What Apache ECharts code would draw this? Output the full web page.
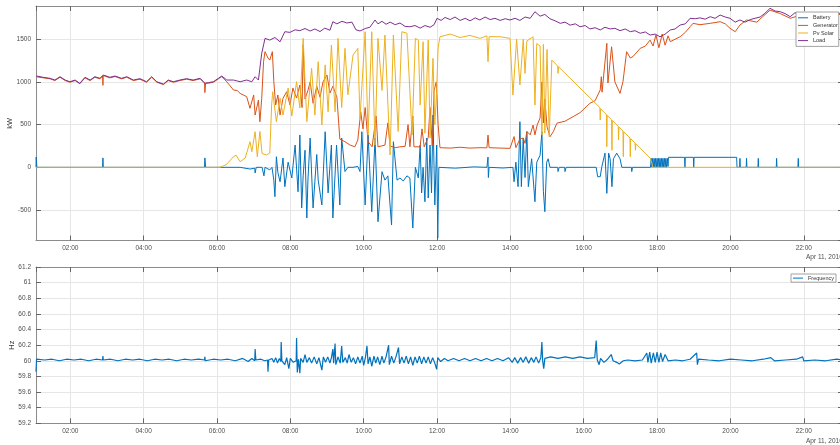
<!DOCTYPE html>
<html>
<head>
<meta charset="utf-8">
<script src="https://cdn.jsdelivr.net/npm/echarts@6.0.0/dist/echarts.min.js"></script>
<style>
  html, body { margin: 0; padding: 0; background: #fff; }
  #chart { width: 840px; height: 445px; }
</style>
</head>
<body>
<div id="chart"></div>
<script>
// time is in hours of Apr 11, 2016
const battery = [
  [1.065,0],[1.07,120],[1.09,0],[2.88,0],[2.89,110],[2.90,0],[5.66,0],[5.67,110],[5.69,0],
  [6.63,0],[6.90,-20],[7.03,-10],[7.04,-67],[7.07,0],[7.23,0],[7.28,-100],[7.31,0],[7.35,20],[7.44,-30],[7.50,0],
  [7.55,-150],[7.58,-344],[7.62,124],[7.66,-60],[7.72,-169],[7.80,109],[7.85,-227],[7.94,60],[8.04,-125],[8.13,261],
  [8.21,-286],[8.26,378],[8.31,-476],[8.35,-100],[8.40,200],[8.45,-593],[8.48,-150],[8.54,343],[8.62,-476],[8.72,150],
  [8.76,-150],[8.86,-441],[8.95,417],[9.03,-300],[9.12,261],[9.16,-593],[9.26,261],[9.35,-441],[9.40,343],[9.49,-50],
  [9.57,0],[9.71,0],[9.84,10],[9.90,-50],[9.95,417],[10.04,-441],[10.12,378],[10.22,-520],[10.31,343],[10.39,-637],
  [10.50,-51],[10.58,-150],[10.66,-100],[10.76,-676],[10.81,300],[10.91,-150],[10.99,-125],[11.08,-160],[11.18,-100],
  [11.26,-125],[11.34,-711],[11.41,0],[11.49,-125],[11.54,261],[11.58,-300],[11.62,0],[11.67,-403],[11.72,343],
  [11.76,-360],[11.81,261],[11.85,-300],[11.89,612],[11.94,-441],[11.99,261],[12.02,-828],[12.05,0],
  [12.5,-10],[13.0,5],[13.36,0],[13.39,120],[13.40,-120],[13.42,0],[13.8,-8],[14.07,0],[14.10,-169],[14.15,60],
  [14.21,-227],[14.26,534],[14.30,-227],[14.35,343],[14.40,-120],[14.45,417],[14.49,-227],[14.58,100],[14.67,-403],
  [14.72,60],[14.81,140],[14.86,417],[14.90,-280],[14.94,-520],[14.99,60],[15.03,100],[15.08,0],[15.29,0],[15.30,-50],
  [15.33,0],[15.48,0],[15.49,-50],[15.52,0],[16.34,0],[16.38,-110],[16.45,-110],[16.49,0],[16.58,166],[16.63,-305],
  [16.68,166],[16.72,100],[16.77,-227],[16.81,100],[16.90,166],[16.99,100],[17.04,0],[17.30,0],[17.31,-50],[17.33,0],
  [17.82,0],[17.84,105],[17.86,0],[17.88,105],[17.90,0],[17.92,105],[17.94,0],[17.96,105],[17.98,0],[18.00,105],
  [18.02,0],[18.04,105],[18.06,0],[18.08,105],[18.10,0],[18.12,105],[18.14,0],[18.16,105],[18.18,0],[18.20,105],
  [18.22,0],[18.24,105],[18.26,0],[18.28,105],[18.30,10],[18.31,117],[18.75,117],[18.76,0],[18.77,117],[18.99,117],
  [19.00,0],[19.01,117],[20.17,117],[20.18,0],[20.25,0],[20.26,105],[20.27,0],[20.43,0],[20.44,105],[20.45,0],
  [20.75,0],[20.76,105],[20.77,0],[21.25,0],[21.26,105],[21.27,0],[21.84,0],[21.85,105],[21.86,0],[23.07,0]
];

const generator = [
  [1.08,1060],[1.26,1048],[1.45,1036],[1.58,1016],[1.72,1055],[1.86,1016],[1.99,996],[2.13,1016],[2.26,978],
  [2.40,1048],[2.54,1016],[2.67,1055],[2.81,1036],[2.88,1070],[2.89,960],[2.90,1075],[3.08,1048],[3.22,1063],
  [3.40,1036],[3.54,1055],[3.72,1016],[3.90,1032],[4.08,996],[4.22,1055],[4.36,996],[4.54,969],[4.67,1016],
  [4.81,996],[4.99,1016],[5.17,1032],[5.35,1016],[5.54,1036],[5.66,990],[5.67,875],[5.69,985],[5.76,985],[5.90,996],
  [6.04,1036],[6.13,1063],[6.27,1000],[6.45,905],[6.55,900],[6.63,866],[6.81,827],
  [6.90,691],[7.00,847],[7.04,612],[7.13,788],[7.17,534],[7.22,808],[7.27,1237],[7.31,1354],[7.39,1280],[7.44,1256],
  [7.51,1354],[7.55,1002],[7.60,730],[7.66,847],[7.72,612],[7.80,808],[7.90,885],[7.99,730],[8.07,928],[8.17,811],
  [8.26,964],[8.32,700],[8.35,1432],[8.40,800],[8.48,900],[8.54,1000],[8.62,750],[8.72,950],[8.81,820],[8.89,1000],
  [9.00,1080],[9.08,870],[9.16,950],[9.27,820],[9.35,330],[9.49,300],[9.63,260],[9.76,240],[9.84,320],[9.92,650],
  [9.98,450],[10.04,700],[10.12,300],[10.23,240],[10.34,600],[10.39,240],[10.58,260],[10.66,520],[10.72,250],
  [10.86,230],[10.99,240],[11.13,245],[11.21,500],[11.26,240],[11.34,600],[11.37,240],[11.54,240],[11.59,450],
  [11.65,240],[11.76,350],[11.81,700],[11.87,250],[11.92,900],[11.98,1000],[12.03,500],[12.08,230],[12.36,225],
  [12.63,235],[12.90,225],[13.17,230],[13.36,228],[13.39,377],[13.42,230],[13.72,225],[13.99,222],[14.10,360],
  [14.15,230],[14.26,330],[14.35,343],[14.40,280],[14.45,420],[14.54,380],[14.62,495],[14.67,380],[14.73,495],
  [14.81,577],[14.86,1000],[14.90,520],[14.94,800],[15.00,475],[15.08,358],[15.17,417],[15.27,517],[15.49,540],
  [15.71,593],[15.90,640],[16.17,750],[16.31,780],[16.45,905],[16.48,1061],[16.50,880],[16.63,1452],[16.66,987],
  [16.76,1412],[16.85,1000],[16.99,866],[17.07,1002],[17.17,1354],[17.27,1280],[17.35,1300],[17.54,1393],[17.68,1420],
  [17.81,1490],[17.89,1420],[17.97,1550],[18.05,1400],[18.14,1560],[18.22,1430],[18.30,1540],[18.36,1471],[18.49,1500],
  [18.63,1529],[18.77,1580],[18.90,1646],[18.98,1686],[19.17,1670],[19.45,1686],[19.72,1705],[19.86,1680],[19.99,1628],
  [20.13,1588],[20.26,1666],[20.44,1725],[20.72,1700],[20.88,1764],[21.08,1840],[21.36,1800],[21.63,1745],[21.90,1780],
  [23.07,1790]
];

const pvSolar = [
  [1.065,0],[6.08,0],[6.25,30],[6.45,124],[6.52,143],[6.63,66],[6.77,109],[6.90,300],[6.95,183],[7.04,417],[7.10,124],
  [7.17,420],[7.23,160],[7.35,144],[7.44,167],[7.49,730],[7.52,885],[7.62,534],[7.72,808],[7.80,612],[7.94,928],
  [8.04,600],[8.17,1002],[8.26,694],[8.35,1510],[8.45,534],[8.58,1159],[8.67,612],[8.76,1237],[8.86,495],[8.95,1200],
  [9.03,650],[9.12,1432],[9.22,650],[9.30,1510],[9.40,700],[9.49,1393],[9.57,850],[9.71,1315],[9.84,1393],[9.90,577],
  [10.04,1588],[10.12,378],[10.22,1588],[10.31,261],[10.39,1510],[10.50,900],[10.58,1549],[10.72,144],[10.81,1549],
  [10.94,420],[11.04,1588],[11.18,1570],[11.32,378],[11.41,1510],[11.49,1490],[11.54,729],[11.62,1470],[11.67,400],
  [11.76,1490],[11.81,343],[11.85,800],[11.89,1276],[11.94,500],[11.99,900],[12.03,1400],[12.08,1529],[12.36,1560],
  [12.63,1520],[12.90,1545],[13.17,1510],[13.36,1540],[13.39,1237],[13.42,1530],[13.72,1529],[13.99,1510],[14.07,846],
  [14.17,1500],[14.26,964],[14.35,1500],[14.40,1100],[14.45,1480],[14.62,1529],[14.67,729],[14.72,1450],[14.81,1420],
  [14.86,378],[14.90,1440],[14.94,400],[15.00,1380],[15.06,358],[15.13,1256],[15.29,1186],[15.30,1100],[15.31,1178],
  [16.44,700],[16.45,554],[16.46,686],[16.62,616],[16.63,241],[16.64,608],[16.76,557],[16.77,200],[16.78,549],
  [16.94,480],[16.95,320],[16.96,472],[17.07,425],[17.08,124],[17.09,417],[17.26,343],[17.27,124],[17.28,335],
  [17.40,285],[17.41,200],[17.42,277],[17.82,105],[17.89,0],[23.07,0]
];

const load = [
  [1.08,1069],[1.26,1054],[1.45,1042],[1.58,1022],[1.72,1061],[1.86,1022],[1.99,1002],[2.13,1022],[2.26,984],
  [2.40,1054],[2.54,1022],[2.67,1061],[2.81,1042],[2.90,1081],[3.08,1054],[3.22,1069],[3.40,1042],[3.54,1061],
  [3.72,1022],[3.90,1038],[4.08,1002],[4.22,1061],[4.36,1002],[4.54,975],[4.67,1022],[4.81,1002],[4.99,1022],
  [5.17,1038],[5.35,1022],[5.54,1042],[5.67,984],[5.76,991],[5.90,1002],[6.04,1042],[6.13,1069],[6.27,1022],
  [6.45,1022],[6.63,1002],[6.81,1022],[6.95,1002],[7.04,1061],[7.13,1022],[7.22,1335],[7.31,1510],[7.44,1490],
  [7.58,1520],[7.72,1470],[7.85,1588],[7.99,1580],[8.13,1610],[8.26,1600],[8.40,1625],[8.54,1596],[8.67,1620],
  [8.81,1590],[8.94,1630],[9.08,1605],[9.16,1705],[9.27,1680],[9.41,1710],[9.54,1690],[9.68,1700],[9.79,1610],
  [9.90,1596],[10.04,1625],[10.17,1640],[10.31,1725],[10.39,1680],[10.50,1710],[10.61,1675],[10.72,1700],[10.86,1670],
  [10.99,1690],[11.13,1650],[11.26,1646],[11.40,1660],[11.54,1630],[11.67,1660],[11.81,1640],[11.92,1670],[12.00,1745],
  [12.11,1720],[12.22,1755],[12.36,1730],[12.49,1760],[12.63,1720],[12.77,1745],[12.90,1715],[13.04,1750],[13.17,1725],
  [13.31,1760],[13.45,1730],[13.58,1745],[13.72,1720],[13.86,1740],[13.99,1725],[14.13,1745],[14.26,1720],[14.40,1760],
  [14.54,1745],[14.67,1822],[14.81,1770],[14.94,1790],[15.08,1740],[15.22,1715],[15.36,1686],[15.49,1700],[15.63,1665],
  [15.77,1680],[15.90,1646],[16.04,1660],[16.17,1620],[16.31,1635],[16.45,1608],[16.58,1640],[16.72,1620],[16.85,1628],
  [16.99,1600],[17.13,1620],[17.27,1588],[17.40,1600],[17.54,1570],[17.68,1585],[17.81,1549],[17.95,1560],[18.08,1529],
  [18.22,1560],[18.36,1608],[18.49,1620],[18.63,1666],[18.77,1680],[18.90,1745],[19.04,1740],[19.17,1750],[19.31,1735],
  [19.45,1764],[19.58,1745],[19.72,1783],[19.86,1760],[19.99,1745],[20.13,1700],[20.26,1725],[20.40,1700],[20.54,1730],
  [20.67,1745],[20.81,1760],[20.94,1803],[21.08,1862],[21.22,1830],[21.36,1822],[21.49,1800],[21.63,1764],[21.76,1810],
  [21.90,1790],[22.17,1800],[22.45,1790],[22.72,1810],[23.07,1800]
];

const frequency = [
  [1.065,59.86],[1.08,60.02],[1.3,60.01],[1.5,60.02],[1.7,60.0],[1.9,60.02],[2.1,60.01],[2.3,60.02],[2.5,60.0],
  [2.7,60.02],[2.88,60.01],[2.89,60.06],[2.9,60.01],[3.1,60.02],[3.3,60.0],[3.5,60.02],[3.7,60.01],[3.9,60.02],
  [4.1,60.0],[4.3,60.02],[4.5,60.01],[4.7,60.02],[4.9,60.0],[5.1,60.02],[5.3,60.01],[5.5,60.02],[5.66,60.01],
  [5.67,60.05],[5.68,60.0],[5.9,60.02],[6.1,60.01],[6.3,60.02],[6.5,60.0],[6.7,60.03],[6.85,59.99],[6.95,60.03],
  [7.03,60.0],[7.04,60.15],[7.06,60.01],[7.2,60.02],[7.3,60.0],[7.38,60.01],[7.39,59.86],[7.41,60.01],[7.5,60.03],
  [7.55,59.98],[7.6,60.04],[7.65,59.97],[7.7,60.03],[7.74,59.99],[7.75,60.24],[7.77,60.0],[7.85,59.95],[7.9,60.04],
  [7.96,59.9],[8.0,60.03],[8.08,59.98],[8.16,60.0],[8.17,60.29],[8.19,59.85],[8.22,60.02],[8.26,59.84],[8.28,60.03],
  [8.35,59.98],[8.4,60.08],[8.45,59.98],[8.52,60.04],[8.58,59.97],[8.65,60.05],[8.72,59.96],[8.78,60.04],[8.86,59.88],
  [8.9,60.05],[8.96,59.98],[9.02,60.05],[9.08,59.97],[9.12,60.04],[9.16,60.15],[9.18,59.97],[9.22,60.22],[9.24,59.95],
  [9.3,60.05],[9.36,59.97],[9.4,60.19],[9.43,59.98],[9.5,60.04],[9.55,59.97],[9.6,60.08],[9.66,59.98],[9.72,60.04],
  [9.78,59.96],[9.84,60.05],[9.9,59.97],[9.96,60.06],[10.0,59.94],[10.05,60.05],[10.09,60.19],[10.12,59.96],
  [10.17,60.05],[10.22,59.93],[10.28,60.06],[10.33,59.97],[10.38,60.05],[10.44,59.95],[10.5,60.06],[10.55,59.97],
  [10.61,60.05],[10.68,60.2],[10.7,59.95],[10.76,60.06],[10.82,59.97],[10.88,60.05],[10.95,60.17],[10.98,59.96],
  [11.04,60.05],[11.1,59.97],[11.16,60.06],[11.22,59.96],[11.28,60.05],[11.34,59.94],[11.4,60.05],[11.46,59.97],
  [11.52,60.06],[11.58,59.96],[11.64,60.05],[11.7,59.97],[11.76,60.05],[11.82,59.96],[11.88,60.04],[11.94,59.97],
  [11.99,59.89],[12.02,60.04],[12.1,59.99],[12.2,60.03],[12.3,60.0],[12.45,60.03],[12.6,60.0],[12.75,60.03],
  [12.9,60.0],[13.05,60.03],[13.2,60.0],[13.35,60.03],[13.5,60.0],[13.65,60.03],[13.8,60.0],[13.95,60.04],
  [14.05,59.98],[14.12,60.04],[14.2,59.97],[14.28,60.04],[14.35,59.98],[14.42,60.05],[14.5,59.97],[14.57,60.04],
  [14.64,59.98],[14.7,60.05],[14.77,59.97],[14.83,60.04],[14.86,60.24],[14.88,60.0],[14.91,59.9],[14.94,60.03],
  [15.1,60.05],[15.3,60.03],[15.5,60.05],[15.7,60.03],[15.9,60.05],[16.1,60.03],[16.3,60.04],[16.34,60.26],
  [16.37,60.01],[16.42,59.95],[16.46,60.03],[16.55,59.98],[16.65,60.02],[16.75,60.08],[16.8,60.0],[16.9,59.98],
  [16.97,59.96],[17.02,59.94],[17.08,60.0],[17.2,60.01],[17.4,60.0],[17.6,60.01],[17.72,60.1],[17.75,59.98],
  [17.8,60.11],[17.84,59.97],[17.9,60.1],[17.95,59.98],[18.0,60.11],[18.05,59.98],[18.1,60.1],[18.15,59.99],
  [18.22,60.08],[18.3,60.0],[18.5,60.01],[18.7,60.0],[18.9,60.02],[19.08,60.1],[19.1,59.95],[19.13,60.02],
  [19.4,60.01],[19.7,60.0],[20.0,60.02],[20.3,60.01],[20.6,60.0],[20.9,60.02],[21.1,60.04],[21.2,60.0],[21.5,60.01],
  [21.8,60.02],[21.97,60.05],[22.0,60.0],[22.3,60.01],[22.6,60.0],[22.9,60.02],[23.07,60.01]
];

const powerNames = ['Battery', 'Generator', 'Pv Solar', 'Load'];
const powerColors = ['#0072BD', '#D95319', '#EDB120', '#7E2F8E'];
const dateLabel = 'Apr 11, 2016';

const xMin = 1.065, xMax = 23.07;
const kwMin = -857, kwMax = 1889;
const hzMin = 59.2, hzMax = 61.2;

const chart = echarts.init(document.getElementById('chart'), null, { renderer: 'canvas' });

const fontFamily = 'Liberation Sans, Arial, sans-serif';
const labelFont = { fontSize: 6.5, color: '#4d4d4d', fontFamily };
const hourLabel = v => (v < 10 ? '0' : '') + Math.round(v) + ':00';

function xAxis(grid, pos, main) {
  return {
    type: 'value', gridIndex: grid, position: pos, min: xMin, max: xMax, minInterval: 2, maxInterval: 2,
    axisLine: { show: true, onZero: false, lineStyle: { color: '#8c8c8c', width: 1 } },
    axisTick: { show: true, inside: true, length: 5, lineStyle: { color: '#666' } },
    axisLabel: { show: main, formatter: hourLabel, showMinLabel: false, showMaxLabel: false, margin: 4, ...labelFont },
    splitLine: { show: main, lineStyle: { color: '#e6e6e6', width: 1 } }
  };
}

function yAxis(grid, pos, main, range, step, name, gap) {
  const exact = grid === 1;
  const ax = {
    type: 'value', gridIndex: grid, position: pos, min: range[0], max: range[1],
    axisLine: { show: true, onZero: false, lineStyle: { color: '#8c8c8c', width: 1 } },
    axisTick: { show: true, inside: true, length: 5, lineStyle: { color: '#666' } },
    axisLabel: {
      show: main, showMinLabel: main && exact, showMaxLabel: main && exact, margin: 5,
      formatter: v => String(Math.round(v * 10) / 10), ...labelFont
    },
    splitLine: { show: main, lineStyle: { color: '#e6e6e6', width: 1 } }
  };
  if (exact) ax.interval = step;
  else { ax.minInterval = step; ax.maxInterval = step; }
  if (main) {
    ax.name = name; ax.nameLocation = 'middle'; ax.nameGap = gap; ax.nameMoveOverlap = false;
    ax.nameTextStyle = { fontSize: 7.5, color: '#333', fontFamily };
  }
  return ax;
}

const powerData = [battery, generator, pvSolar, load];

const legendCommon = {
  orient: 'vertical', icon: 'rect', itemWidth: 10, itemHeight: 1, itemGap: 0,
  backgroundColor: '#fff', borderColor: '#8c8c8c', borderWidth: 0.8, borderRadius: 0,
  textStyle: { fontSize: 5.5, lineHeight: 7.6, color: '#333', fontFamily }
};

chart.setOption({
  animation: false,
  grid: [
    { left: 36, top: 6, right: -3, height: 234.5, outerBoundsMode: 'none', containLabel: false },
    { left: 36, top: 267, right: -3, height: 156.3, outerBoundsMode: 'none', containLabel: false }
  ],
  xAxis: [xAxis(0, 'bottom', true), xAxis(0, 'top', false), xAxis(1, 'bottom', true), xAxis(1, 'top', false)],
  yAxis: [
    yAxis(0, 'left', true, [kwMin, kwMax], 500, 'kW', 22),
    yAxis(0, 'right', false, [kwMin, kwMax], 500),
    yAxis(1, 'left', true, [hzMin, hzMax], 0.2, 'Hz', 20),
    yAxis(1, 'right', false, [hzMin, hzMax], 0.2)
  ],
  legend: [
    { ...legendCommon, left: 796, top: 12, padding: [2, 1, 2, 2], data: powerNames },
    { ...legendCommon, left: 791, top: 274, padding: [0.3, 2, 0.3, 2], data: ['Frequency'] }
  ],
  graphic: [
    { type: 'text', left: 806, top: 254, style: { text: dateLabel, fontSize: 6.5, fill: '#4d4d4d', fontFamily } },
    { type: 'text', left: 806, top: 437.5, style: { text: dateLabel, fontSize: 6.5, fill: '#4d4d4d', fontFamily } }
  ],
  series: powerNames.map((n, i) => ({
    name: n, type: 'line', xAxisIndex: 0, yAxisIndex: 0, data: powerData[i],
    showSymbol: false, symbol: 'none', color: powerColors[i],
    lineStyle: { width: 1, color: powerColors[i] }
  })).concat([{
    name: 'Frequency', type: 'line', xAxisIndex: 2, yAxisIndex: 2, data: frequency,
    showSymbol: false, symbol: 'none', color: '#0072BD',
    lineStyle: { width: 1.2, color: '#0072BD' }
  }])
});
</script>
</body>
</html>
